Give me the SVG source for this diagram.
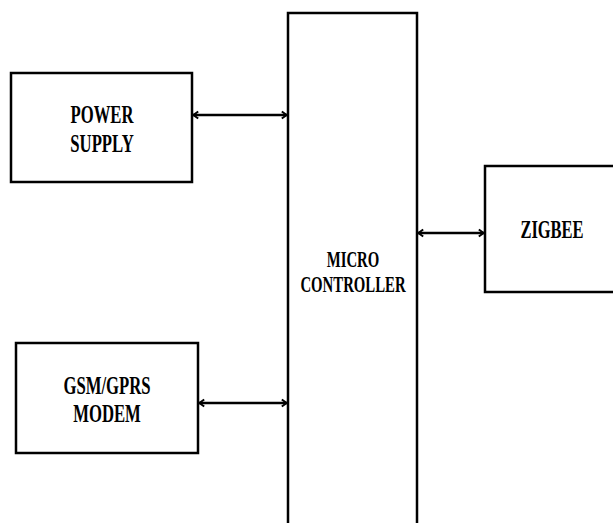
<svg xmlns="http://www.w3.org/2000/svg" width="613" height="523" viewBox="0 0 613 523">
<defs>
<style>
.box{fill:#fff;stroke:#000;stroke-width:2.5}
.lbl{font-family:"Liberation Serif","Times New Roman",serif;font-weight:bold;text-anchor:middle;fill:#000}
.conn{stroke:#000;stroke-width:2.5;fill:none}
</style>
<marker id="ah" viewBox="0 0 10 12" refX="9" refY="6" markerWidth="8" markerHeight="11" markerUnits="userSpaceOnUse" orient="auto-start-reverse">
<path d="M2.5,1.5 L8.5,6 L2.5,10.5" fill="none" stroke="#000" stroke-width="2.4"/>
</marker>
</defs>
<rect width="613" height="523" fill="#fff"/>
<g id="power-supply">
<rect class="box" x="11" y="73" width="181" height="109"/>
<text class="lbl" font-size="16.7" transform="translate(102,123) scale(1,1.5)">POWER</text>
<text class="lbl" font-size="16.7" transform="translate(102,152) scale(1,1.5)">SUPPLY</text>
</g>
<g id="gsm-modem">
<rect class="box" x="16" y="343" width="182" height="110"/>
<text class="lbl" font-size="16.7" transform="translate(107,394) scale(1,1.5)">GSM/GPRS</text>
<text class="lbl" font-size="16.7" transform="translate(107,422) scale(1,1.5)">MODEM</text>
</g>
<g id="micro-controller">
<rect class="box" x="288" y="13" width="129" height="530"/>
<text class="lbl" font-size="14.8" transform="translate(353,267) scale(1,1.53)">MICRO</text>
<text class="lbl" font-size="14.8" transform="translate(353,292) scale(1,1.53)">CONTROLLER</text>
</g>
<g id="zigbee">
<rect class="box" x="485" y="166" width="140" height="126"/>
<text class="lbl" font-size="16.5" transform="translate(552,238) scale(1,1.5)">ZIGBEE</text>
</g>
<g id="connectors">
<line class="conn" x1="193" y1="115" x2="287" y2="115" marker-start="url(#ah)" marker-end="url(#ah)"/>
<line class="conn" x1="199" y1="403" x2="287" y2="403" marker-start="url(#ah)" marker-end="url(#ah)"/>
<line class="conn" x1="418" y1="233" x2="484" y2="233" marker-start="url(#ah)" marker-end="url(#ah)"/>
</g>
</svg>
